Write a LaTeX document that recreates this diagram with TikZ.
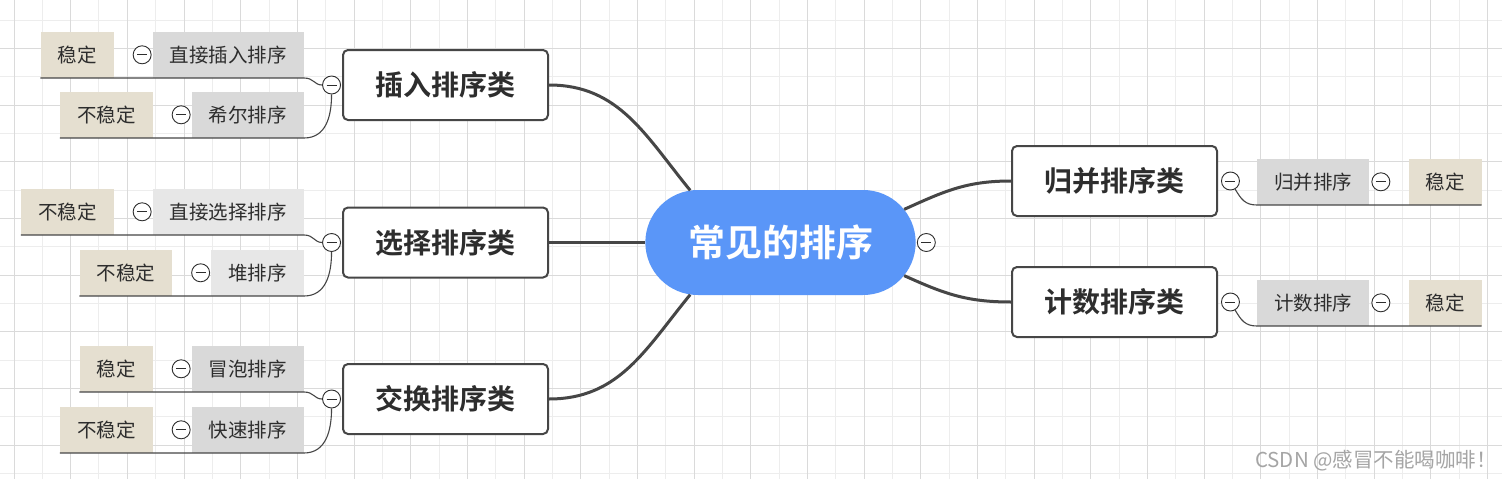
\documentclass[tikz,border=0pt]{standalone}
\usepackage{fontspec}
\setmainfont{Noto Sans CJK SC}[BoldFont={Noto Sans CJK SC Bold}]
\usepackage{tikz}
\usetikzlibrary{positioning,shapes.misc}
\definecolor{rootblue}{RGB}{90,150,248}
\definecolor{leafgray}{RGB}{217,217,217}
\definecolor{leafpale}{RGB}{231,231,231}
\definecolor{stabtan}{RGB}{229,223,208}
\definecolor{inkdark}{RGB}{45,45,45}
\definecolor{linedark}{RGB}{70,70,70}
\definecolor{gridhard}{RGB}{218,218,218}
\definecolor{gridsoft}{RGB}{237,237,237}
\definecolor{markgray}{RGB}{165,165,165}

\begin{document}
\begin{tikzpicture}[x=1pt,y=-1pt,
  root/.style={rounded rectangle, fill=rootblue, minimum width=277, minimum height=105,
    text=white, font=\bfseries\fontsize{37}{42}\selectfont},
  cat/.style={draw=linedark, line width=2, rounded corners=5, fill=white,
    minimum width=205, minimum height=70, text=inkdark, font=\bfseries\fontsize{28}{32}\selectfont},
  sortleaf/.style={fill=leafgray, inner xsep=17, inner ysep=0, minimum height=46,
    text=inkdark, font=\fontsize{19.5}{23}\selectfont},
  stab/.style={sortleaf, fill=stabtan},
  foldcirc/.style={circle, draw=inkdark, fill=white, line width=0.9, minimum size=18, inner sep=0,
    path picture={\draw[line width=1] ([xshift=-5pt]path picture bounding box.center)
      -- ([xshift=5pt]path picture bounding box.center);}},
  trunk/.style={draw=linedark, line width=3},
  twig/.style={draw=linedark, line width=1.1},
  majorline/.style={draw=gridhard, line width=1},
  minorline/.style={draw=gridsoft, line width=1},
  wmark/.style={text=markgray, font=\fontsize{20.5}{23}\selectfont}]

\useasboundingbox (0,0) rectangle (1502,479);
\fill[white] (0,0) rectangle (1502,479);

% background grid
\foreach \i in {0,...,25} \draw[minorline] ({42.33+56.667*\i},0) -- ({42.33+56.667*\i},479);
\foreach \i in {0,...,8} \draw[minorline] (0,{20+56.667*\i}) -- (1502,{20+56.667*\i});
\foreach \i in {0,...,26} \draw[majorline] ({14+56.667*\i},0) -- ({14+56.667*\i},479);
\foreach \i in {0,...,7} \draw[majorline] (0,{48.5+56.667*\i}) -- (1502,{48.5+56.667*\i});

% centre
\node[root] (root) at (780.5,242.5) {常见的排序};
\node[foldcirc, right=1pt of root] (f-root) {};

% left branches
\node[cat] (insert) at (445.5,85) {插入排序类};
\node[cat] (select) at (445.5,242.5) {选择排序类};
\node[cat] (swap) at (445.5,399) {交换排序类};
\node[foldcirc, left=1pt of insert] (f-insert) {};
\node[foldcirc, left=1pt of select] (f-select) {};
\node[foldcirc, left=1pt of swap] (f-swap) {};

\node[sortleaf, anchor=south east] (direct-ins) at (304,78) {直接插入排序};
\node[foldcirc, left=1pt of direct-ins] (f-direct-ins) {};
\node[stab, left=19pt of f-direct-ins] (s-direct-ins) {稳定};
\node[sortleaf, anchor=south east] (shell) at (304,138) {希尔排序};
\node[foldcirc, left=1pt of shell] (f-shell) {};
\node[stab, left=19pt of f-shell] (s-shell) {不稳定};

\node[sortleaf, fill=leafpale, anchor=south east] (direct-sel) at (304,235) {直接选择排序};
\node[foldcirc, left=1pt of direct-sel] (f-direct-sel) {};
\node[stab, left=19pt of f-direct-sel] (s-direct-sel) {不稳定};
\node[sortleaf, fill=leafpale, anchor=south east] (heap) at (304,296) {堆排序};
\node[foldcirc, left=1pt of heap] (f-heap) {};
\node[stab, left=19pt of f-heap] (s-heap) {不稳定};

\node[sortleaf, anchor=south east] (bubble) at (304,392) {冒泡排序};
\node[foldcirc, left=1pt of bubble] (f-bubble) {};
\node[stab, left=19pt of f-bubble] (s-bubble) {稳定};
\node[sortleaf, anchor=south east] (quick) at (304,453) {快速排序};
\node[foldcirc, left=1pt of quick] (f-quick) {};
\node[stab, left=19pt of f-quick] (s-quick) {不稳定};

% right branches
\node[cat] (merge) at (1114.5,181) {归并排序类};
\node[cat] (count) at (1114.5,302) {计数排序类};
\node[foldcirc, right=3pt of merge] (f-merge) {};
\node[foldcirc, right=3pt of count] (f-count) {};

\node[sortleaf, anchor=south west] (l-merge) at (1257,205) {归并排序};
\node[foldcirc, right=2pt of l-merge] (f-l-merge) {};
\node[stab, right=18pt of f-l-merge] (s-merge) {稳定};
\node[sortleaf, anchor=south west] (l-count) at (1257,326) {计数排序};
\node[foldcirc, right=2pt of l-count] (f-l-count) {};
\node[stab, right=18pt of f-l-count] (s-count) {稳定};

% main connectors
\draw[trunk] (insert.east) .. controls +(70,0) and +(-45,-55) .. (root.150);
\draw[trunk] (select.east) -- (root.west);
\draw[trunk] (swap.east) .. controls +(70,0) and +(-45,55) .. (root.210);
\draw[trunk] (root.15) .. controls +(40,-18) and +(-45,0) .. (merge.west);
\draw[trunk] (root.-15) .. controls +(40,18) and +(-45,0) .. (count.west);

% leaf connectors
\draw[twig] (s-direct-ins.south west) -- (direct-ins.south east) .. controls +(10,0) and +(-8,0) .. (f-insert.west);
\draw[twig] (s-shell.south west) -- (shell.south east) .. controls +(22,0) and +(0,22) .. (f-insert.south);
\draw[twig] (s-direct-sel.south west) -- (direct-sel.south east) .. controls +(10,0) and +(-8,0) .. (f-select.west);
\draw[twig] (s-heap.south west) -- (heap.south east) .. controls +(22,0) and +(0,22) .. (f-select.south);
\draw[twig] (s-bubble.south west) -- (bubble.south east) .. controls +(10,0) and +(-8,0) .. (f-swap.west);
\draw[twig] (s-quick.south west) -- (quick.south east) .. controls +(22,0) and +(0,22) .. (f-swap.south);
\draw[twig] (f-merge.-60) .. controls +(6,10) and +(-12,0) .. (l-merge.south west) -- (s-merge.south east);
\draw[twig] (f-count.-60) .. controls +(6,10) and +(-12,0) .. (l-count.south west) -- (s-count.south east);

\node[wmark] (watermark) at (1376,461) {CSDN @感冒不能喝咖啡！};
\end{tikzpicture}
\end{document}
